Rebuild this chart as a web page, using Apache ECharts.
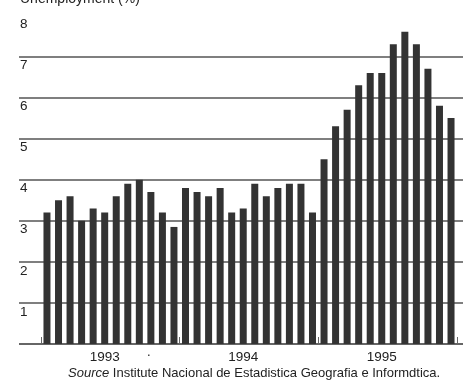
<!DOCTYPE html>
<html>
<head>
<meta charset="utf-8">
<script src="https://cdn.jsdelivr.net/npm/echarts@6/dist/echarts.min.js"></script>
<style>
  html, body { margin: 0; padding: 0; background: #fff; }
  #chart { width: 474px; height: 383px; }
</style>
</head>
<body>
<div id="chart"></div>
<script>
// monthly unemployment rate, Jan 1993 .. Dec 1995
const years = ["1993", "1994", "1995"]
const monthNames = ["Jan", "Feb", "Mar", "Apr", "May", "Jun", "Jul", "Aug", "Sep", "Oct", "Nov", "Dec"]
const rate = [
  3.2, 3.5, 3.6, 3.0, 3.3, 3.2, 3.6, 3.9, 4.0, 3.7, 3.2, 2.85,
  3.8, 3.7, 3.6, 3.8, 3.2, 3.3, 3.9, 3.6, 3.8, 3.9, 3.9, 3.2,
  4.5, 5.3, 5.7, 6.3, 6.6, 6.6, 7.3, 7.6, 7.3, 6.7, 5.8, 5.5,
]
const yTicks = [0, 1, 2, 3, 4, 5, 6, 7, 8]

const months = []
years.forEach(y => monthNames.forEach(m => months.push(m + " " + y)))

const font = "Liberation Sans, Arial, sans-serif"
const ink = "#222"
const rule = "#555"

const chart = echarts.init(document.getElementById("chart"), null, {renderer: "canvas"})

chart.setOption({
  animation: false,
  backgroundColor: "#fff",
  textStyle: {fontFamily: font},
  grid: [
    {left: 19, right: 11, top: 15.4, bottom: 39},
    {left: 41.2, right: 17.2, top: 15.4, bottom: 39},
  ],
  xAxis: [
    {gridIndex: 0, type: "value", min: 0, max: 1, show: false},
    {
      gridIndex: 1,
      type: "category",
      data: months,
      axisLine: {show: false},
      axisTick: {
        show: true,
        inside: true,
        length: 7,
        interval: i => i % 12 === 0,
        lineStyle: {color: "#666", width: 1},
      },
      axisLabel: {
        interval: i => i % 12 === 5,
        formatter: v => v.split(" ")[1],
        color: ink,
        fontSize: 13.5,
        fontFamily: font,
        margin: 6,
      },
    },
  ],
  yAxis: [
    {
      gridIndex: 0,
      type: "value",
      min: yTicks[0],
      max: yTicks[yTicks.length - 1],
      interval: 1,
      axisLine: {show: false},
      axisTick: {show: false},
      axisLabel: {
        inside: true,
        showMinLabel: false,
        margin: 1,
        verticalAlign: "top",
        padding: [2, 0, 0, 0],
        color: ink,
        fontSize: 13.5,
        fontFamily: font,
      },
      splitLine: {
        show: true,
        lineStyle: {
          color: yTicks.map(t => (t === 8 ? "rgba(0,0,0,0)" : t === 0 ? "#333" : rule)),
          width: 1.6,
        },
      },
    },
    {gridIndex: 1, type: "value", min: 0, max: 8, show: false},
  ],
  series: [
    {
      type: "bar",
      xAxisIndex: 1,
      yAxisIndex: 1,
      data: rate,
      barWidth: 7,
      itemStyle: {color: "#333"},
    },
  ],
  graphic: [
    {
      type: "text",
      left: 20,
      top: -8,
      style: {text: "Unemployment (%)", fill: ink, font: "14px " + font},
    },
    {
      type: "text",
      left: 147,
      top: 346,
      style: {text: ".", fill: ink, font: "13px " + font},
    },
    {
      type: "text",
      left: 68,
      top: 367,
      style: {
        text: "{i|Source} Institute Nacional de Estadistica Geografia e Informdtica.",
        fill: ink,
        font: "13px " + font,
        rich: {i: {fontStyle: "italic", fontSize: 13, fontFamily: font, fill: ink}},
      },
    },
  ],
})
</script>
</body>
</html>
